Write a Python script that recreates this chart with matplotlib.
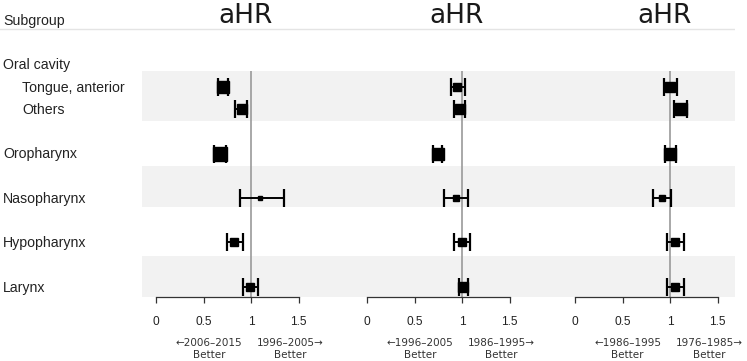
import matplotlib
matplotlib.use("Agg")
import matplotlib.pyplot as plt

# Subgroups and hazard ratios
subgroups = ["Tongue, anterior", "Others", "Oropharynx", "Nasopharynx", "Hypopharynx", "Larynx"]
titles = ["aHR", "aHR", "aHR"]

hr1 = [0.70, 0.90, 0.67, 1.09, 0.82, 0.99]
lo1 = [0.65, 0.83, 0.61, 0.88, 0.74, 0.91]
hi1 = [0.76, 0.96, 0.73, 1.35, 0.91, 1.07]

hr2 = [0.95, 0.98, 0.74, 0.93, 1.00, 1.01]
lo2 = [0.88, 0.91, 0.69, 0.81, 0.91, 0.97]
hi2 = [1.03, 1.03, 0.79, 1.06, 1.08, 1.06]

hr3 = [1.00, 1.11, 1.00, 0.91, 1.05, 1.05]
lo3 = [0.93, 1.04, 0.95, 0.82, 0.97, 0.97]
hi3 = [1.07, 1.18, 1.06, 1.01, 1.14, 1.14]

# relative box sizes (weights)
w1 = [11, 10, 13, 4, 7, 7]
w2 = [7, 10, 12, 5, 8, 10]
w3 = [10, 11, 11, 6, 8, 8]

left_labels = ["←2006–2015\nBetter", "←1996–2005\nBetter", "←1986–1995\nBetter"]
right_labels = ["1996–2005→\nBetter", "1986–1995→\nBetter", "1976–1985→\nBetter"]
xticks = [0, 0.5, 1, 1.5]

# layout (row units, top = 0)
row_pos = [3, 4, 6, 8, 10, 12]
label_rows = {"Subgroup": 0, "Oral cavity": 2, "Tongue, anterior": 3, "Others": 4,
              "Oropharynx": 6, "Nasopharynx": 8, "Hypopharynx": 10, "Larynx": 12}
indented = ["Tongue, anterior", "Others"]
bands = [(2.3, 4.55), (6.55, 8.4), (10.6, 12.45)]
ylim = (12.45, -0.9)

W, H = 747, 361
fig = plt.figure(figsize=(W / 100, H / 100), dpi=100)
bottom = (H - 297) / H
height = 297 / H

# background axes: shaded rows, header line, row labels
bg = fig.add_axes([0, bottom, 735 / W, height])
bg.set_xlim(0, 1)
bg.set_ylim(*ylim)
bg.axis("off")
for y0, y1 in bands:
    bg.axhspan(y0, y1, xmin=142 / 735, xmax=1, color="#f2f2f2", lw=0, zorder=0)
bg.axhline(0.42, color="#e4e4e4", lw=1)

for name, r in label_rows.items():
    x = 22 / 735 if name in indented else 3 / 735
    bg.text(x, r + 0.22, name, fontsize=10.2, family="Liberation Sans",
            color="#222222", va="baseline", ha="left")

panels = [(hr1, lo1, hi1, w1), (hr2, lo2, hi2, w2), (hr3, lo3, hi3, w3)]
lefts = [141, 352, 560]
xlim = (-0.16, 1.7)
pw = (xlim[1] - xlim[0]) * 95

for i, (hr, lo, hi, w) in enumerate(panels):
    ax = fig.add_axes([lefts[i] / W, bottom, pw / W, height])
    ax.patch.set_alpha(0)
    ax.set_xlim(*xlim)
    ax.set_ylim(*ylim)

    ax.vlines(1, 2.3, ylim[0], color="#9a9a9a", lw=1.2, zorder=1)
    for j in range(len(hr)):
        ax.errorbar(hr[j], row_pos[j], xerr=[[hr[j] - lo[j]], [hi[j] - hr[j]]],
                    fmt="none", ecolor="black", elinewidth=1.4, capsize=6.4,
                    capthick=1.6, zorder=2)
        ax.plot(hr[j], row_pos[j], marker="s", ms=w[j] * 0.75, color="black",
                lw=0, zorder=3)

    for s in ["top", "left", "right"]:
        ax.spines[s].set_visible(False)
    ax.spines["bottom"].set_bounds(0, 1.5)
    ax.spines["bottom"].set_color("#333333")
    ax.spines["bottom"].set_linewidth(0.9)
    ax.set_yticks([])
    ax.set_xticks(xticks)
    ax.set_xticklabels(["0", "0.5", "1", "1.5"], fontsize=8.6, family="Liberation Sans",
                       color="#222222")
    ax.tick_params(axis="x", length=4.5, width=0.9, color="#333333", pad=9.5)

    ax.text(0.94, 0.13, titles[i], fontsize=19, family="DejaVu Sans",
            ha="center", va="baseline", color="#1a1a1a")

    ax.annotate(left_labels[i], xy=(1, 0), xycoords=("data", "axes fraction"),
                xytext=(-6.5, -37.5), textcoords="offset points", ha="right",
                va="center", multialignment="center", fontsize=7.5,
                family="DejaVu Sans", color="#333333", linespacing=1.35)
    ax.annotate(right_labels[i], xy=(1, 0), xycoords=("data", "axes fraction"),
                xytext=(4.3, -37.5), textcoords="offset points", ha="left",
                va="center", multialignment="center", fontsize=7.5,
                family="DejaVu Sans", color="#333333", linespacing=1.35)

fig.savefig("out.png", dpi=100)
